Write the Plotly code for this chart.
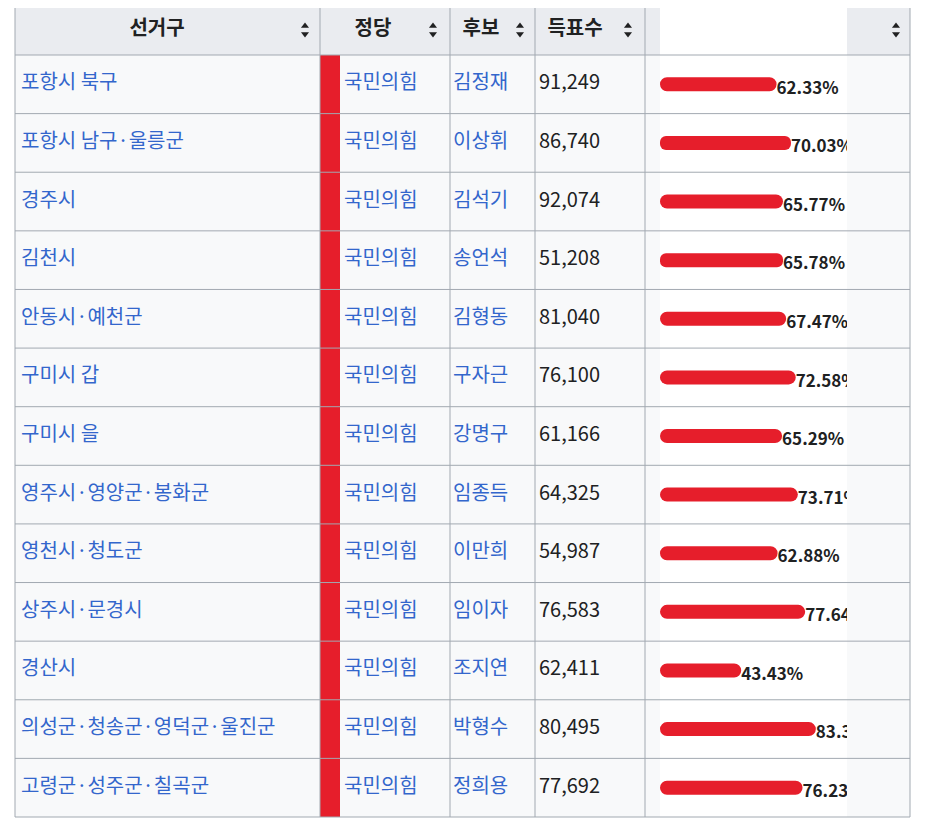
import plotly.graph_objects as go

districts = ["포항시 북구", "포항시 남구·울릉군", "경주시", "김천시", "안동시·예천군", "구미시 갑", "구미시 을",
             "영주시·영양군·봉화군", "영천시·청도군", "상주시·문경시", "경산시", "의성군·청송군·영덕군·울진군",
             "고령군·성주군·칠곡군"]
party = "국민의힘"
candidates = ["김정재", "이상휘", "김석기", "송언석", "김형동", "구자근", "강명구", "임종득", "이만희", "임이자",
              "조지연", "박형수", "정희용"]
votes = ["91,249", "86,740", "92,074", "51,208", "81,040", "76,100", "61,166", "64,325", "54,987", "76,583",
         "62,411", "80,495", "77,692"]
shares = [62.33, 70.03, 65.77, 65.78, 67.47, 72.58, 65.29, 73.71, 62.88, 77.64, 43.43, 83.33, 76.23]
headers = ["선거구", "정당", "후보", "득표수", "득표율"]

W, H = 938, 828
OFF = 8  # page body margin
cols = [15, 320, 340, 450, 535, 645, 910]
top, head_h = 5, 50
row_h = (817 - top - head_h) / len(districts)
FONT = "Noto Sans CJK KR"
border = "#a2a9b1"

fig = go.Figure()
shapes = []
shapes.append(dict(type="rect", x0=cols[0], x1=cols[-1], y0=top, y1=top + head_h,
                   fillcolor="#eaecf0", line=dict(width=0), layer="below"))
shapes.append(dict(type="rect", x0=cols[0], x1=cols[-1], y0=top + head_h, y1=817,
                   fillcolor="#f8f9fa", line=dict(width=0), layer="below"))
shapes.append(dict(type="rect", x0=cols[1], x1=cols[2], y0=top + head_h, y1=817,
                   fillcolor="#E61E2B", line=dict(width=0), layer="below"))
for i in range(len(districts) + 2):
    y = top if i == 0 else top + head_h + (i - 1) * row_h
    shapes.append(dict(type="line", x0=cols[0], x1=cols[-1], y0=y, y1=y, line=dict(color=border, width=1)))
for j, x in enumerate(cols):
    if j == 2:
        continue
    shapes.append(dict(type="line", x0=x, x1=x, y0=top, y1=817, line=dict(color=border, width=1)))

centers = [top + head_h + (i + 0.5) * row_h for i in range(len(districts))]

hx = [157, 373, 481, 575, 766]
fig.add_trace(go.Scatter(x=hx, y=[top + head_h / 2] * 5, text=["<b>%s</b>" % h for h in headers],
                         mode="text", textfont=dict(family=FONT, size=20, color="#202122"),
                         hoverinfo="skip", showlegend=False))
ax = [305, 433, 520, 628, 896]
hy = top + head_h / 2
fig.add_trace(go.Scatter(x=ax, y=[hy - 4] * 5, mode="markers",
                         marker=dict(symbol="triangle-up", size=7, color="#202122"),
                         hoverinfo="skip", showlegend=False))
fig.add_trace(go.Scatter(x=ax, y=[hy + 4] * 5, mode="markers",
                         marker=dict(symbol="triangle-down", size=7, color="#202122"),
                         hoverinfo="skip", showlegend=False))

blue = "#3366cc"
for xs, labels, color in [(21, districts, blue), (344, [party] * 13, blue),
                          (453, candidates, blue), (539, votes, "#202122")]:
    fig.add_trace(go.Scatter(x=[xs] * 13, y=centers, text=labels, mode="text", textposition="middle right",
                             textfont=dict(family=FONT, size=20, color=color), hoverinfo="skip", showlegend=False))

fig.add_trace(go.Bar(x=shares, y=centers, orientation="h", width=14, base=0,
                     marker=dict(color="#E61E2B", cornerradius=7, line=dict(width=0)),
                     xaxis="x2", yaxis="y", hoverinfo="skip", showlegend=False))
fig.add_trace(go.Scatter(x=shares, y=[c + 5 for c in centers], text=["<b>%.2f%%</b>" % s for s in shares],
                         mode="text", textposition="middle right", xaxis="x2", yaxis="y",
                         textfont=dict(family=FONT, size=17, color="#202122"), hoverinfo="skip", showlegend=False))

fig.update_layout(
    width=W, height=H, margin=dict(l=0, r=0, t=0, b=0),
    paper_bgcolor="white", plot_bgcolor="white", shapes=shapes,
    xaxis=dict(range=[OFF, W + OFF], visible=False, domain=[0, 1]),
    xaxis2=dict(range=[0, 100], visible=False, domain=[(660 - OFF) / W, (847 - OFF) / W], anchor="y"),
    yaxis=dict(range=[H + OFF, OFF], visible=False),
)
fig.write_html("out.html")
